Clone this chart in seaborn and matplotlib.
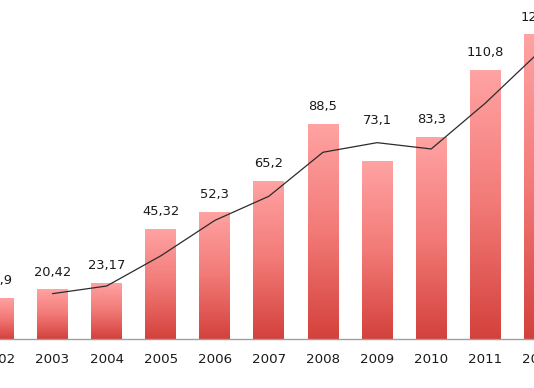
import numpy as np
import pandas as pd
import matplotlib
matplotlib.use("Agg")
import matplotlib.pyplot as plt
import seaborn as sns
from matplotlib.colors import LinearSegmentedColormap

years = ["2002", "2003", "2004", "2005", "2006", "2007", "2008", "2009", "2010", "2011", "2012"]
values = [16.9, 20.42, 23.17, 45.32, 52.3, 65.2, 88.5, 73.1, 83.3, 110.8, 125.5]
labels = ["16,9", "20,42", "23,17", "45,32", "52,3", "65,2", "88,5", "73,1", "83,3", "110,8", "125,5"]
trend_years = ["2003", "2004", "2005", "2006", "2007", "2008", "2009", "2010", "2011", "2012"]
trend = [18.66, 21.8, 34.2, 48.8, 58.75, 76.85, 80.8, 78.2, 97.05, 118.2]

sns.set_theme(style="white")
plt.rcParams["font.family"] = ["DejaVu Sans"]

df = pd.DataFrame({"year": years, "value": values})

W, H = 534, 388
# pixel(i) = -1.6 + 54.1 i ; axes covers i in [-0.5, 10.5]
px0 = -1.6 + 54.1 * -0.5
px1 = -1.6 + 54.1 * 10.5
fig = plt.figure(figsize=(W / 100, H / 100), dpi=100)
ax = fig.add_axes([px0 / W, 49 / H, (px1 - px0) / W, 1 - 49 / H])

sns.barplot(data=df, x="year", y="value", order=years, color="#f08080",
            width=0.57, ax=ax, saturation=1)

# gradient fill on bars
cmap = LinearSegmentedColormap.from_list("g", ["#d4413c", "#f27a77", "#ffa3a3"])
grad = np.linspace(0, 1, 256).reshape(-1, 1)
for p in ax.patches:
    x0, y0 = p.get_x(), p.get_y()
    w, h = p.get_width(), p.get_height()
    im = ax.imshow(grad, cmap=cmap, aspect="auto", origin="lower",
                   extent=[x0, x0 + w, y0, y0 + h], zorder=2)
    im.set_clip_path(p)
    p.set_facecolor("none")
    p.set_edgecolor("none")

pos = {y: i for i, y in enumerate(years)}
tx = [pos[y] for y in trend_years]
sns.lineplot(x=tx, y=trend, color="#2b2b2b", linewidth=0.9, ax=ax, zorder=3)

tmap = dict(zip(trend_years, trend))
for i, (y, v, lab) in enumerate(zip(years, values, labels)):
    t = tmap.get(y, -1)
    if t > v:
        top, off = t, 22
    else:
        top, off = v, 17
    ax.annotate(lab, (i, top), xytext=(0, off), textcoords="offset pixels",
                ha="center", va="center", fontsize=9.4, color="#1a1a1a", zorder=4,
                annotation_clip=False)

ax.set_xlim(-0.5, 10.5)
ax.set_ylim(0, 339 / 2.43)
ax.set_xlabel("")
ax.set_ylabel("")
ax.set_yticks([])
ax.tick_params(axis="x", labelsize=9.6, colors="#1a1a1a", length=0, pad=10)
for s in ["top", "right", "left"]:
    ax.spines[s].set_visible(False)
ax.spines["bottom"].set_color("#a0a0a0")
ax.spines["bottom"].set_linewidth(1.0)
ax.set_facecolor("white")
fig.patch.set_facecolor("white")

fig.savefig("out.png", dpi=100)
